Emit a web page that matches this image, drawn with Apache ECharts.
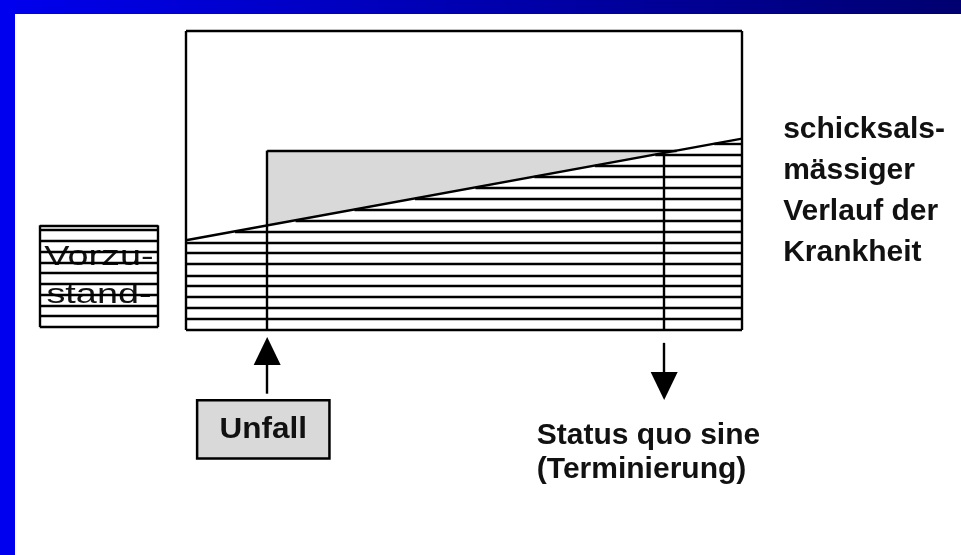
<!DOCTYPE html>
<html><head><meta charset="utf-8">
<script src="https://cdn.jsdelivr.net/npm/echarts@6/dist/echarts.min.js"></script>
<style>html,body{margin:0;padding:0;background:#fff}#c{width:961px;height:555px}</style>
</head><body><div id="c"></div>
<script>
// Main frame (time 0..100, state 0..100)
const boxX = [0, 100];
const boxY = [0, 100];
// schicksalsmässiger Verlauf der Krankheit (start, end)
const course = [[0, 30], [100, 64]];
const accidentX = 14.6;
const terminationX = 86;
const shadeTop = 60;
// horizontal hatch levels in main frame
const hatchLevels = [3.7, 7.3, 11, 14.7, 18.3, 22, 25.7, 29.3, 33, 36.7, 40.3, 44, 47.7, 51.3, 55, 58.7, 62.3];
// Vorzustand box
const priorX = [-26.3, -5];
const priorY = [1, 35];
const priorHatch = [4.6, 8.2, 11.8, 15.4, 19, 22.6, 26.2, 29.8, 33.4];
// Unfall box
const unfallX = [2, 25.8];
const unfallY = [-43, -23.5];
// labels
const labelRight = ['schicksals-', 'mässiger', 'Verlauf der', 'Krankheit'];
const labelBottom = ['Status quo sine', '(Terminierung)'];
const labelPrior = ['Vorzu-', 'stand-'];
const labelUnfall = 'Unfall';

const courseAt = x => course[0][1] + (course[1][1] - course[0][1]) * (x - course[0][0]) / (course[1][0] - course[0][0]);
const xAtCourse = h => course[0][0] + (h - course[0][1]) / (course[1][1] - course[0][1]) * (course[1][0] - course[0][0]);

const segs = [];
segs.push([[boxX[0], boxY[0]], [boxX[1], boxY[0]]]);
segs.push([[boxX[1], boxY[0]], [boxX[1], boxY[1]]]);
segs.push([[boxX[1], boxY[1]], [boxX[0], boxY[1]]]);
segs.push([[boxX[0], boxY[1]], [boxX[0], boxY[0]]]);
segs.push(course);
hatchLevels.forEach(h => {
  const xs = Math.max(boxX[0], xAtCourse(h));
  segs.push([[xs, h], [boxX[1], h]]);
});
segs.push([[accidentX, boxY[0]], [accidentX, shadeTop]]);
segs.push([[terminationX, boxY[0]], [terminationX, courseAt(terminationX)]]);
segs.push([[accidentX, shadeTop], [xAtCourse(shadeTop), shadeTop]]);
segs.push([[priorX[0], priorY[0]], [priorX[1], priorY[0]]]);
segs.push([[priorX[1], priorY[0]], [priorX[1], priorY[1]]]);
segs.push([[priorX[1], priorY[1]], [priorX[0], priorY[1]]]);
segs.push([[priorX[0], priorY[1]], [priorX[0], priorY[0]]]);
priorHatch.forEach(h => segs.push([[priorX[0], h], [priorX[1], h]]));
segs.push([[accidentX, -21.3], [accidentX, -9]]);
segs.push([[terminationX, -4.3], [terminationX, -15]]);

const chart = echarts.init(document.getElementById('c'));
chart.setOption({
  animation: false,
  backgroundColor: '#fff',
  grid: {left: 186, right: 219, top: 31, bottom: 225},
  xAxis: {type: 'value', min: 0, max: 100, show: false},
  yAxis: {type: 'value', min: 0, max: 100, show: false},
  graphic: [
    {type: 'rect', shape: {x: 0, y: 0, width: 961, height: 14}, style: {fill: new echarts.graphic.LinearGradient(0, 0, 1, 0, [{offset: 0, color: '#0000ee'}, {offset: 1, color: '#000070'}])}, z: 100},
    {type: 'rect', shape: {x: 0, y: 0, width: 15, height: 555}, style: {fill: '#0000ee'}, z: 100}
  ],
  series: [
    {
      type: 'custom', clip: false, z: 1,
      data: [0],
      renderItem: (p, api) => {
        const a = api.coord([accidentX, shadeTop]);
        const b = api.coord([xAtCourse(shadeTop), shadeTop]);
        const c = api.coord([accidentX, courseAt(accidentX)]);
        return {type: 'polygon', shape: {points: [a, b, c]}, style: {fill: '#d9d9d9'}};
      }
    },
    {
      type: 'custom', clip: false, z: 1,
      data: [0],
      renderItem: (p, api) => {
        const a = api.coord([unfallX[0], unfallY[1]]);
        const b = api.coord([unfallX[1], unfallY[0]]);
        const c = api.coord([(unfallX[0] + unfallX[1]) / 2, (unfallY[0] + unfallY[1]) / 2]);
        return {type: 'group', children: [
          {type: 'rect', shape: {x: a[0], y: a[1], width: b[0] - a[0], height: b[1] - a[1]}, style: {fill: '#d9d9d9', stroke: '#000', lineWidth: 2.5}},
          {type: 'text', x: c[0], y: c[1], scaleX: 1.05, style: {text: labelUnfall, fontFamily: 'Liberation Sans', fontWeight: 'bold', fontSize: 30, fill: '#111', align: 'center', verticalAlign: 'middle'}}
        ]};
      }
    },
    {
      type: 'custom', clip: false, z: 2,
      data: [0],
      renderItem: (p, api) => {
        const l = api.coord([priorX[0], priorY[1]]);
        const r = api.coord([priorX[1], priorY[0]]);
        const cx = (l[0] + r[0]) / 2, cy = (l[1] + r[1]) / 2;
        return {type: 'group', children: labelPrior.map((t, i) => ({
          type: 'text', x: cx, y: cy + (i - 0.5) * 38, scaleX: 1.4,
          style: {text: t, fontFamily: 'Liberation Sans', fontSize: 27, fill: '#111', align: 'center', verticalAlign: 'middle'}
        }))};
      }
    },
    {
      type: 'lines', coordinateSystem: 'cartesian2d', clip: false, z: 3,
      lineStyle: {color: '#000', width: 2.4, opacity: 1},
      data: segs.map(c => ({coords: c}))
    },
    {
      type: 'scatter', clip: false, z: 4, symbol: 'triangle', symbolSize: [27, 28],
      itemStyle: {color: '#000', opacity: 1},
      data: [{value: [accidentX, -7]}, {value: [terminationX, -18.7], symbolRotate: 180}]
    },
    {
      type: 'scatter', clip: false, z: 5, symbolSize: 0,
      itemStyle: {opacity: 1},
      data: [
        {value: [107.4, 46.3], label: {show: true, position: 'right', distance: 0, formatter: labelRight.join('\n'), fontFamily: 'Liberation Sans', fontWeight: 'bold', fontSize: 30, lineHeight: 41, color: '#111', align: 'left'}},
        {value: [63.1, -41], label: {show: true, position: 'right', distance: 0, formatter: labelBottom.join('\n'), fontFamily: 'Liberation Sans', fontWeight: 'bold', fontSize: 30, lineHeight: 34, color: '#111', align: 'left'}}
      ]
    }
  ]
});
</script></body></html>
